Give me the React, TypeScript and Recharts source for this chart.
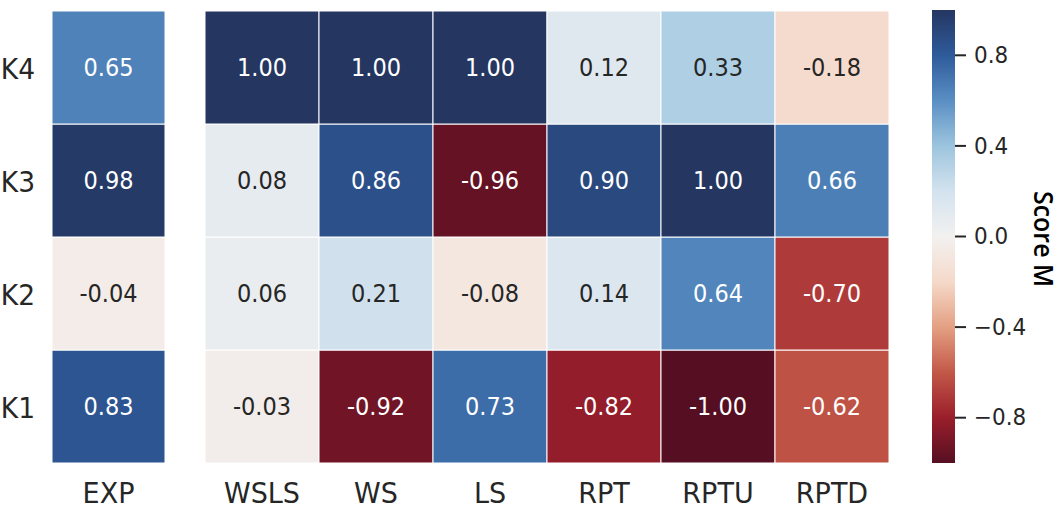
import React from "react";
import { BarChart, Bar, XAxis, YAxis, Cell, LabelList } from "recharts";

const rowLabels = ["K1", "K2", "K3", "K4"];
const expLabels = ["EXP"];
const expValues = [0.83, -0.04, 0.98, 0.65];

const strategies = ["WSLS", "WS", "LS", "RPT", "RPTU", "RPTD"];
const k1Values = [-0.03, -0.92, 0.73, -0.82, -1.0, -0.62];
const k2Values = [0.06, 0.21, -0.08, 0.14, 0.64, -0.7];
const k3Values = [0.08, 0.86, -0.96, 0.9, 1.0, 0.66];
const k4Values = [1.0, 1.0, 1.0, 0.12, 0.33, -0.18];

const colorbarTicks = [-0.8, -0.4, 0, 0.4, 0.8];

// RdBu-like stops (t = 0 .. 1)
const stops = [
  "#560f22", "#9a1e2b", "#c25848", "#e4a083", "#f5d9c9", "#f2f1f0",
  "#d3e2ee", "#9cc4de", "#5a8fc3", "#2e5b9b", "#253661",
];

const hex = (h: string) => [1, 3, 5].map((i) => parseInt(h.slice(i, i + 2), 16));

function colorAt(v: number) {
  const t = Math.max(0, Math.min(1, (v + 1) / 2)) * (stops.length - 1);
  const i = Math.min(stops.length - 2, Math.floor(t));
  const f = t - i;
  const a = hex(stops[i]);
  const b = hex(stops[i + 1]);
  const c = a.map((x, k) => Math.round(x + (b[k] - x) * f));
  return `rgb(${c[0]},${c[1]},${c[2]})`;
}

const TXT = "#262626";
const FONT = "'DejaVu Sans', sans-serif";

const expTable = expLabels.map((name) => ({
  name,
  K1: 1, K2: 1, K3: 1, K4: 1,
  K1v: expValues[0], K2v: expValues[1], K3v: expValues[2], K4v: expValues[3],
}));

const strategyTable = strategies.map((name, i) => ({
  name,
  K1: 1, K2: 1, K3: 1, K4: 1,
  K1v: k1Values[i], K2v: k2Values[i], K3v: k3Values[i], K4v: k4Values[i],
}));

const colorbarTable = [{ name: "cb", range: [-1, 1] }];

function ScaledText({ x, y, text, size, anchor, color = TXT, sy = 1.05 }: any) {
  return (
    <text
      transform={`translate(${x},${y}) scale(1,${sy})`}
      textAnchor={anchor}
      dominantBaseline="central"
      fontSize={size}
      fontFamily={FONT}
      fill={color}
    >
      {text}
    </text>
  );
}

const XTick = ({ x, y, payload }: any) => (
  <ScaledText x={x} y={y + 28} text={payload.value} size={27} anchor="middle" />
);

const YTick = ({ x, y, payload }: any) => (
  <ScaledText x={x} y={y + 2} text={rowLabels[Math.floor(payload.value)]} size={26.5} anchor="end" />
);

const CbTick = ({ x, y, payload }: any) => (
  <ScaledText
    x={x}
    y={y}
    text={payload.value === 0 ? "0.0" : payload.value.toFixed(1).replace("-", "\u2212")}
    size={21.5}
    anchor="start"
  />
);

const cellLabel = (props: any) => {
  const { x, y, width, height, value } = props;
  return (
    <ScaledText
      x={x + width / 2}
      y={y + height / 2}
      text={value.toFixed(2)}
      size={22.5}
      anchor="middle"
      sy={1.08}
      color={Math.abs(value) > 0.5 ? "#ffffff" : TXT}
    />
  );
};

function Heatmap({ data, width, showY }: { data: any[]; width: number; showY: boolean }) {
  return (
    <BarChart
      width={width}
      height={509}
      data={data}
      barCategoryGap={0}
      margin={{ top: 11, right: 10, left: 0, bottom: 0 }}
    >
      <XAxis dataKey="name" height={46} axisLine={false} tickLine={false} tickSize={0} tick={<XTick />} interval={0} />
      <YAxis
        type="number"
        domain={[0, 4]}
        ticks={[0.5, 1.5, 2.5, 3.5]}
        hide={!showY}
        width={52}
        axisLine={false}
        tickLine={false}
        tickSize={0}
        tickMargin={17}
        tick={<YTick />}
      />
      {rowLabels.map((r) => (
        <Bar key={r} dataKey={r} stackId="a" isAnimationActive={false} stroke="#ffffff" strokeWidth={1}>
          {data.map((d, i) => (
            <Cell key={i} fill={colorAt(d[r + "v"])} />
          ))}
          <LabelList dataKey={r + "v"} content={cellLabel} />
        </Bar>
      ))}
    </BarChart>
  );
}

export default function App() {
  const gradStops = Array.from({ length: 41 }, (_, i) => i / 40);
  return (
    <div style={{ position: "absolute", left: 0, top: 0, width: 1063, height: 509, background: "#fff" }}>
      <div style={{ position: "absolute", left: 0, top: 0 }}>
        <Heatmap data={expTable} width={175} showY={true} />
      </div>
      <div style={{ position: "absolute", left: 205, top: 0 }}>
        <Heatmap data={strategyTable} width={694} showY={false} />
      </div>
      <div style={{ position: "absolute", left: 920, top: 0 }}>
        <BarChart
          width={143}
          height={509}
          data={colorbarTable}
          barCategoryGap={0}
          margin={{ top: 10, right: 0, left: 12, bottom: 46 }}
        >
          <defs>
            <linearGradient id="cbarGrad" x1="0" y1="1" x2="0" y2="0">
              {gradStops.map((s) => (
                <stop key={s} offset={s} stopColor={colorAt(s * 2 - 1)} />
              ))}
            </linearGradient>
          </defs>
          <XAxis dataKey="name" hide />
          <YAxis
            type="number"
            orientation="right"
            domain={[-1, 1]}
            ticks={colorbarTicks}
            width={108}
            axisLine={false}
            tickSize={11}
            tickMargin={8}
            tickLine={{ stroke: TXT, strokeWidth: 2 }}
            tick={<CbTick />}
          />
          <Bar dataKey="range" fill="url(#cbarGrad)" isAnimationActive={false} />
        </BarChart>
      </div>
      <div
        style={{
          position: "absolute",
          left: 1044,
          top: 239,
          transform: "translate(-50%, -50%) rotate(90deg) scale(1, 1.1)",
          fontFamily: "'Open Sans', sans-serif",
          fontSize: 25,
          fontWeight: 600,
          color: "#000",
          whiteSpace: "nowrap",
          lineHeight: 1,
        }}
      >
        Score M
      </div>
    </div>
  );
}
